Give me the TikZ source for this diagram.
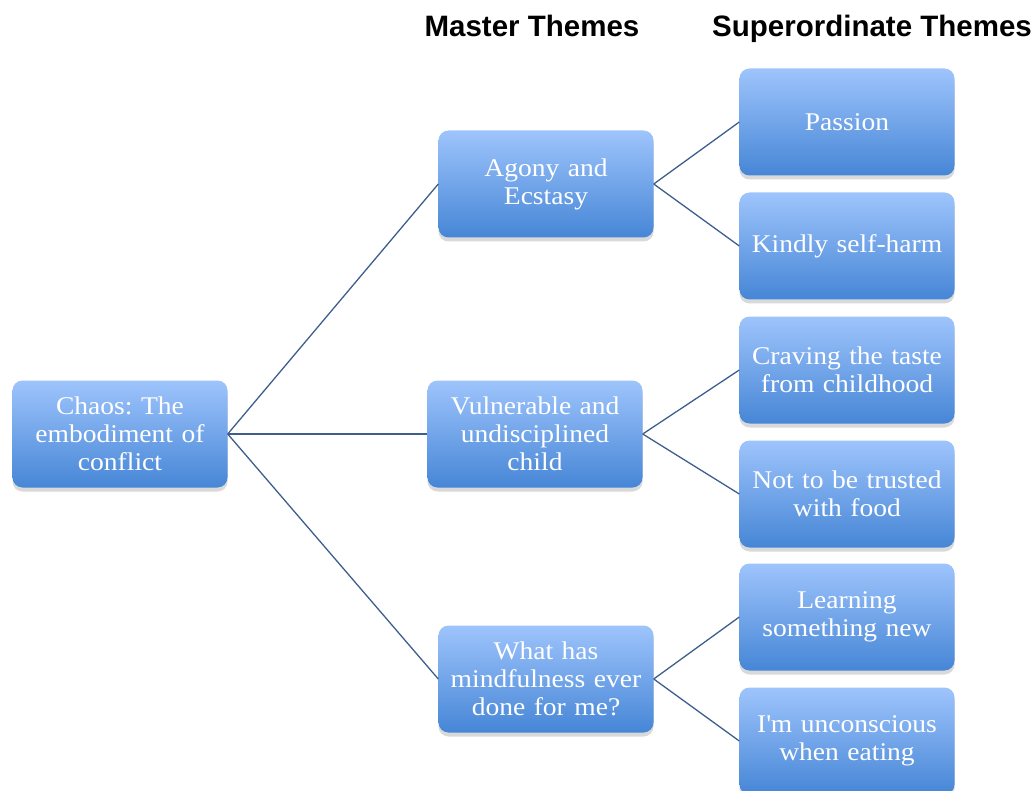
\documentclass[tikz,border=0pt]{standalone}
\usepackage{fontspec}
\setmainfont{Liberation Serif}[FakeStretch=1.08]
\setsansfont{Liberation Sans}
\usepackage{xcolor}
\usetikzlibrary{shadows}

\definecolor{boxtop}{RGB}{158,196,252}
\definecolor{boxbot}{RGB}{70,134,214}
\definecolor{linkblue}{RGB}{62,94,140}

\frenchspacing
\begin{document}
\begin{tikzpicture}[x=1pt, y=-1pt,
  theme/.style={rectangle, rounded corners=10pt, top color=boxtop, bottom color=boxbot,
    draw=none, minimum width=215pt, minimum height=107pt, text width=210pt, align=center,
    text=white, font=\fontsize{25.5}{28}\selectfont, inner sep=0pt,
    drop shadow={shadow xshift=0pt, shadow yshift=-4pt, opacity=0.25, fill=black!60}},
  link/.style={draw=linkblue, line width=1.3pt},
  heading/.style={anchor=base, font=\sffamily\bfseries\fontsize{29.5}{31}\selectfont}]
\useasboundingbox (0,0) rectangle (1035,791);

% Column headings
\node[heading] (hmaster) at (532,37) {Master Themes};
\node[heading] (hsuper) at (872,37) {Superordinate Themes};

% Root
\node[theme] (chaos) at (120,434) {Chaos: The\\embodiment of\\conflict};

% Master themes
\node[theme] (agony) at (546,184) {Agony and\\Ecstasy};
\node[theme] (vuln) at (535,434) {Vulnerable and\\undisciplined\\child};
\node[theme] (mind) at (546,679) {What has\\mindfulness ever\\done for me?};

% Superordinate themes
\node[theme] (passion) at (847,122) {Passion};
\node[theme] (kindly) at (847,246) {Kindly self-harm};
\node[theme] (craving) at (847,370) {Craving the taste\\from childhood};
\node[theme] (trusted) at (847,494) {Not to be trusted\\with food};
\node[theme] (learning) at (847,617) {Learning\\something new};
\node[theme] (uncons) at (847,741) {I\textquotesingle m unconscious\\when eating};

% Links
\draw[link] (chaos.east) -- (agony.west);
\draw[link] (chaos.east) -- (vuln.west);
\draw[link] (chaos.east) -- (mind.west);
\draw[link] (agony.east) -- (passion.west);
\draw[link] (agony.east) -- (kindly.west);
\draw[link] (vuln.east) -- (craving.west);
\draw[link] (vuln.east) -- (trusted.west);
\draw[link] (mind.east) -- (learning.west);
\draw[link] (mind.east) -- (uncons.west);
\end{tikzpicture}
\end{document}
